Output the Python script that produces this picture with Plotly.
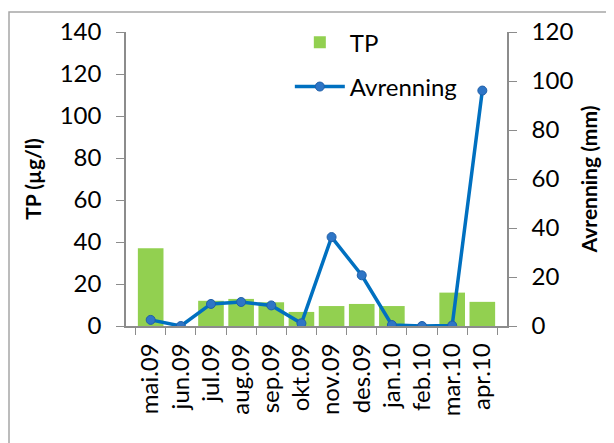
import plotly.graph_objects as go

months = ["mai.09", "jun.09", "jul.09", "aug.09", "sep.09", "okt.09",
          "nov.09", "des.09", "jan.10", "feb.10", "mar.10", "apr.10"]
tp = [37.0, 0, 12.0, 12.9, 11.3, 6.7, 9.5, 10.5, 9.5, 0, 15.9, 11.5]
avrenning = [2.5, 0.0, 9.0, 9.8, 8.4, 1.1, 36.3, 20.7, 0.4, 0.0, 0.2, 96.1]

W, H = 614, 443
# page body has an 8px margin, so the figure is laid out 8px up/left of the target
ml, mr, mt, mb = 118, 115, 24, 125
pw, ph = W - ml - mr, H - mt - mb

font_family = "Lato, 'Open Sans', sans-serif"
axis_grey = "#8c8c8c"
tick_size = 24

fig = go.Figure()
fig.add_trace(go.Bar(x=months, y=tp, name="TP", legendgroup="a",
                     marker=dict(color="#92D050", line=dict(width=0)), yaxis="y"))
fig.add_trace(go.Scatter(x=months, y=avrenning, name="Avrenning", legendgroup="b",
                         mode="lines+markers",
                         line=dict(color="#0070C0", width=3.5),
                         marker=dict(color="#2E75C6", size=9, line=dict(color="#1F5FA8", width=1)),
                         yaxis="y2"))

fig.update_layout(
    width=W, height=H,
    margin=dict(l=ml, r=mr, t=mt, b=mb, autoexpand=False),
    paper_bgcolor="white", plot_bgcolor="white",
    font=dict(family=font_family, size=tick_size, color="black"),
    bargap=0.15,
    showlegend=True,
    legend=dict(x=0.43, y=1.04, xanchor="left", yanchor="top",
                bgcolor="rgba(0,0,0,0)", font=dict(size=24),
                itemwidth=50, tracegroupgap=10),
    xaxis=dict(type="category", tickangle=-90, showline=True, linecolor=axis_grey, linewidth=1.5,
               ticks="outside", ticklen=7, tickcolor=axis_grey, tickson="boundaries",
               showgrid=False, tickfont=dict(size=tick_size), automargin=False,
               ticklabelstandoff=6),
    yaxis=dict(range=[0, 140], dtick=20, showline=True, linecolor=axis_grey, linewidth=1.5,
               ticks="outside", ticklen=8, tickcolor=axis_grey, showgrid=False, zeroline=False,
               title=dict(text="<b>TP (µg/l)</b>", font=dict(size=21), standoff=12),
               tickfont=dict(size=tick_size), automargin=False, ticklabelstandoff=10),
    yaxis2=dict(range=[0, 120], dtick=20, overlaying="y", side="right", showline=True,
                linecolor=axis_grey, linewidth=1.5, ticks="outside", ticklen=8, tickcolor=axis_grey,
                showgrid=False, zeroline=False,
                title=dict(text="<b>Avrenning (mm)</b>", font=dict(size=21), standoff=10),
                tickfont=dict(size=tick_size), automargin=False, ticklabelstandoff=10),
)

# outer chart frame
fig.add_shape(type="rect", xref="paper", yref="paper",
              x0=(1 - ml) / pw, x1=(640 - ml) / pw,
              y0=(mt + ph - 470) / ph, y1=(mt + ph - 4) / ph,
              line=dict(color="#a6a6a6", width=1.5), fillcolor="rgba(0,0,0,0)", layer="below")

fig.write_html("out.html")
